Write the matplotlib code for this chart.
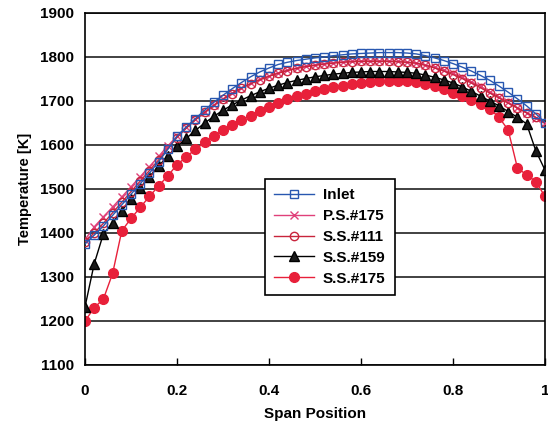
import numpy as np
import matplotlib
matplotlib.use("Agg")
import matplotlib.pyplot as plt

span = np.round(np.linspace(0, 1, 51), 2)

inlet = [1375, 1395, 1416, 1440, 1464, 1488, 1512, 1536, 1562, 1590,
         1620, 1641, 1660, 1679, 1697, 1713, 1728, 1742, 1755, 1766,
         1775, 1783, 1788, 1792, 1795, 1798, 1800, 1803, 1805, 1807,
         1808, 1809, 1810, 1810, 1810, 1809, 1807, 1803, 1798, 1792,
         1785, 1777, 1768, 1758, 1747, 1734, 1720, 1705, 1689, 1671,
         1651]

ps175 = [1385, 1414, 1437, 1459, 1482, 1505, 1528, 1551, 1574, 1598,
         1620, 1640, 1658, 1675, 1691, 1705, 1718, 1730, 1740, 1749,
         1757, 1764, 1770, 1775, 1779, 1782, 1785, 1787, 1789, 1790,
         1791, 1791, 1791, 1791, 1790, 1788, 1786, 1782, 1777, 1770,
         1763, 1754, 1744, 1733, 1721, 1709, 1697, 1685, 1673, 1662,
         1649]

ss111 = [1380, 1400, 1422, 1446, 1470, 1494, 1518, 1542, 1566, 1592,
         1617, 1638, 1657, 1674, 1690, 1704, 1717, 1729, 1739, 1748,
         1756, 1763, 1769, 1774, 1778, 1781, 1784, 1786, 1788, 1789,
         1790, 1790, 1790, 1790, 1789, 1788, 1786, 1781, 1775, 1768,
         1760, 1751, 1741, 1730, 1718, 1707, 1695, 1684, 1673, 1663,
         1649]

ss159 = [1232, 1330, 1398, 1423, 1451, 1477, 1503, 1528, 1552, 1575,
         1597, 1615, 1633, 1650, 1665, 1679, 1691, 1702, 1712, 1721,
         1729, 1736, 1742, 1747, 1751, 1755, 1758, 1761, 1763, 1765,
         1766, 1767, 1767, 1767, 1766, 1765, 1763, 1759, 1754, 1748,
         1741, 1732, 1722, 1711, 1700, 1689, 1676, 1663, 1648, 1587,
         1543]

ss175 = [1200, 1230, 1250, 1308, 1405, 1433, 1458, 1483, 1507, 1530,
         1555, 1573, 1590, 1606, 1620, 1634, 1646, 1657, 1667, 1677,
         1687, 1696, 1704, 1711, 1717, 1722, 1727, 1731, 1735, 1738,
         1741, 1743, 1745, 1746, 1746, 1745, 1743, 1738, 1733, 1727,
         1719, 1712, 1702, 1693, 1682, 1663, 1634, 1548, 1532, 1517,
         1483]

xticks = [0, 0.2, 0.4, 0.6, 0.8, 1]
xticklabels = ["0", "0.2", "0.4", "0.6", "0.8", "1"]
yticks = [1100, 1200, 1300, 1400, 1500, 1600, 1700, 1800, 1900]

plt.rcParams['font.family'] = ['Liberation Sans', 'DejaVu Sans']

fig = plt.figure(figsize=(5.48, 4.30), dpi=100)
ax = fig.add_axes([85/548, 1-365/430, 460/548, 352/430])

ax.plot(span, inlet, color='#2857b0', lw=1.0, marker='s', ms=6, mfc='none',
        mec='#2857b0', mew=1.0, label='Inlet', zorder=5)
ax.plot(span, ps175, color='#e0407a', lw=1.0, marker='x', ms=5.5,
        mec='#e0407a', mew=1.0, label='P.S.#175', zorder=4)
ax.plot(span, ss111, color='#c8243c', lw=1.0, marker='o', ms=6, mfc='none',
        mec='#c8243c', mew=1.0, label='S.S.#111', zorder=4)
ax.plot(span, ss159, color='black', lw=1.0, marker='^', ms=7, mfc='#1a1a1a',
        mec='black', label='S.S.#159', zorder=3)
ax.plot(span, ss175, color='#e8203a', lw=1.0, marker='o', ms=7, mfc='#e8203a',
        mec='#e8203a', label='S.S.#175', zorder=2)

ax.set_xlim(0, 1)
ax.set_ylim(1100, 1900)
ax.set_xticks(xticks)
ax.set_xticklabels(xticklabels)
ax.set_yticks(yticks)
ax.yaxis.grid(True, color='#333333', lw=1.3)
ax.set_axisbelow(True)
ax.tick_params(axis='x', direction='in', length=5, width=1, pad=14, labelsize=11)
ax.tick_params(axis='y', length=0, pad=8, labelsize=11)
for lab in ax.get_xticklabels() + ax.get_yticklabels():
    lab.set_fontweight('bold')
for s in ax.spines.values():
    s.set_color('black')
    s.set_linewidth(1.2)

ax.set_xlabel('Span Position', fontsize=11, fontweight='bold', labelpad=6)
ax.set_ylabel('Temperature [K]', fontsize=10.5, fontweight='bold', labelpad=6)

leg = ax.legend(loc='center', bbox_to_anchor=(0.532, 0.364), fontsize=11,
                frameon=True, fancybox=False, edgecolor='black',
                framealpha=1, handlelength=2.6, labelspacing=0.45,
                borderpad=0.6, handletextpad=0.6)
leg.get_frame().set_linewidth(1.2)
for t in leg.get_texts():
    t.set_fontweight('bold')

fig.savefig('out.png', dpi=100)
